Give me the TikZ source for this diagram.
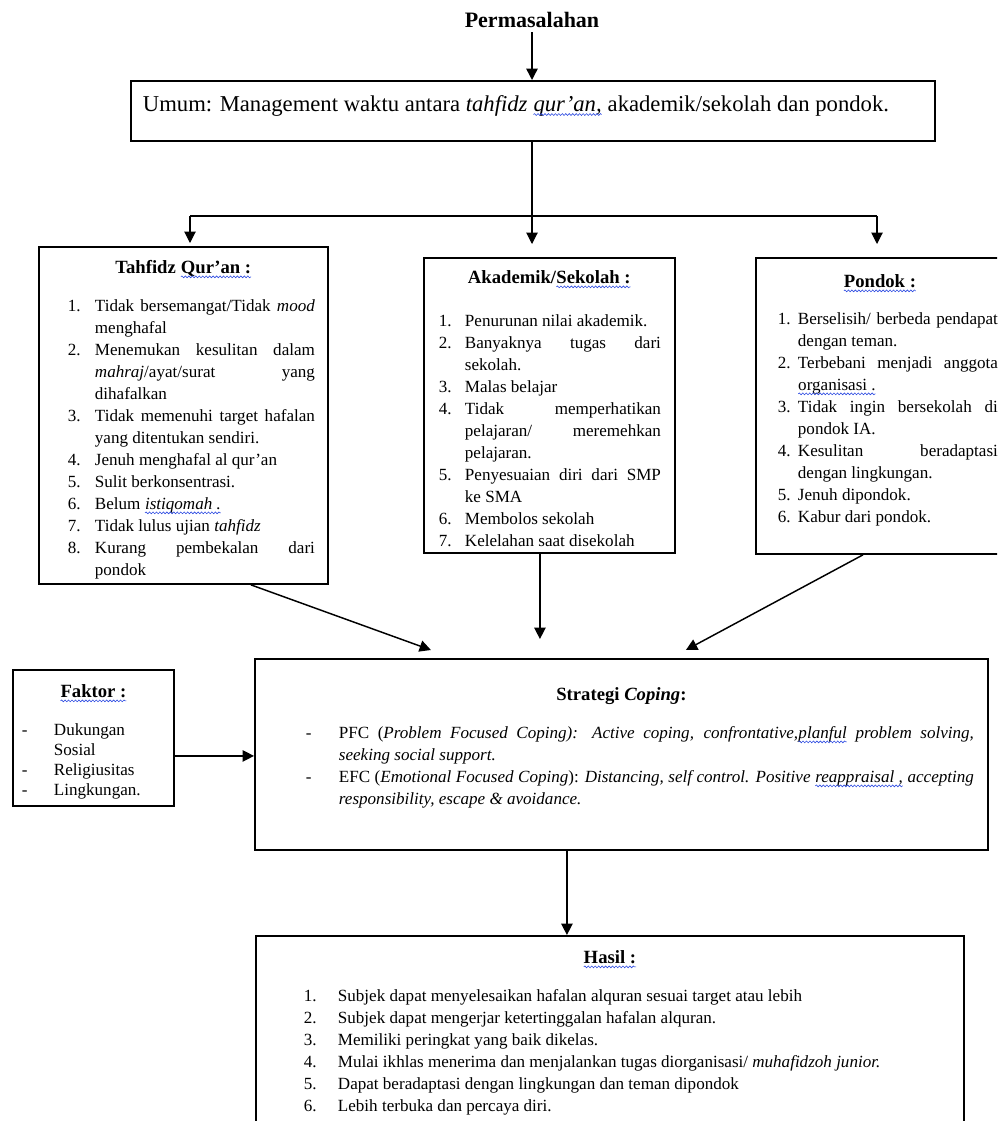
\documentclass[tikz,border=0pt]{standalone}
\usepackage{fontspec}
\setmainfont{Liberation Serif}
\usepackage{enumitem}
\usetikzlibrary{arrows.meta,calc,decorations.pathmorphing}

\definecolor{spellblue}{RGB}{45,75,225}
\newcommand\squig[1]{\tikz[baseline=(w.base)]{\node[inner sep=0pt, outer sep=0pt] (w) {#1};
    \draw[spellblue, line width=0.45pt, decorate, decoration={snake, amplitude=0.7pt, segment length=2.6pt}]
        ([yshift=-2.2pt]w.base west) -- ([yshift=-2.2pt]w.base east);}}

\newcommand\itemfont{\fontsize{12.8}{16.5}\selectfont}
\newcommand\headfont{\fontsize{14}{16.5}\selectfont\bfseries}
\setlist{topsep=0pt, partopsep=0pt, itemsep=0pt, parsep=0pt, labelsep=0pt, align=left}

\begin{document}
\begin{tikzpicture}[x=0.75pt, y=-0.75pt,
    box/.style={draw, line width=1.4pt, inner sep=0pt, anchor=north west},
    arr/.style={-{Triangle[length=8.5pt,width=8.5pt]}, line width=1.1pt},
    thinline/.style={line width=0.8pt}]
    \useasboundingbox (0,0) rectangle (997,1121);
    \clip (0,0) rectangle (997,1121);

    \node[font=\fontsize{16.5}{20}\selectfont\bfseries] (perm) at (532,20) {Permasalahan};

    \node[box] (umum) at (130,80) {\begin{minipage}[t][45pt][t]{603pt}
        \fontsize{17}{20}\selectfont\leftskip=9pt
        \rule{0pt}{23pt}Umum: Management waktu antara \textit{tahfidz \squig{qur’an,}} akademik/sekolah dan pondok.
    \end{minipage}};

    % tiga masalah
    \node[box] (tahfidz) at (38,246) {\begin{minipage}[t][252.75pt][t]{216.75pt}
        {\centering\headfont\rule{0pt}{20.25pt}Tahfidz \squig{Qur’an :}\par}
        \vspace{12pt}\itemfont
        \begin{enumerate}[leftmargin=42pt, labelwidth=20.25pt, rightmargin=9.75pt]
            \item Tidak bersemangat/Tidak \textit{mood}\linebreak menghafal
            \item Menemukan kesulitan dalam\linebreak \textit{mahraj}/ayat/surat yang\linebreak dihafalkan
            \item Tidak memenuhi target hafalan\linebreak yang ditentukan sendiri.
            \item Jenuh menghafal al qur’an
            \item Sulit berkonsentrasi.
            \item Belum \textit{\squig{istiqomah .}}
            \item Tidak lulus ujian \textit{tahfidz}
            \item Kurang pembekalan dari\linebreak pondok
        \end{enumerate}
    \end{minipage}};

    \node[box] (akademik) at (423,257) {\begin{minipage}[t][221.25pt][t]{188.25pt}
        {\centering\headfont\rule{0pt}{19.5pt}Akademik/\squig{Sekolah :}\par}
        \vspace{15.5pt}\itemfont
        \begin{enumerate}[leftmargin=30.75pt, labelwidth=19.5pt, rightmargin=10.5pt]
            \item Penurunan nilai akademik.
            \item Banyaknya tugas dari\linebreak sekolah.
            \item Malas belajar
            \item Tidak memperhatikan\linebreak pelajaran/ meremehkan\linebreak pelajaran.
            \item Penyesuaian diri dari SMP\linebreak ke SMA
            \item Membolos sekolah
            \item Kelelahan saat disekolah
        \end{enumerate}
    \end{minipage}};

    \node[box] (pondok) at (755,257) {\begin{minipage}[t][222pt][t]{186pt}
        {\centering\headfont\rule{0pt}{22.5pt}\squig{Pondok :}\par}
        \vspace{11.25pt}\itemfont
        \begin{enumerate}[leftmargin=31.5pt, labelwidth=15pt, rightmargin=4.5pt]
            \item Berselisih/ berbeda pendapat\linebreak dengan teman.
            \item Terbebani menjadi anggota\linebreak \squig{organisasi .}
            \item Tidak ingin bersekolah di\linebreak pondok IA.
            \item Kesulitan beradaptasi\linebreak dengan lingkungan.
            \item Jenuh dipondok.
            \item Kabur dari pondok.
        \end{enumerate}
    \end{minipage}};

    % faktor dan strategi
    \node[box] (faktor) at (12,669) {\begin{minipage}[t][102pt][t]{120.75pt}
        {\centering\headfont\rule{0pt}{21pt}\squig{Faktor :}\par}
        \vspace{13.5pt}\fontsize{12.8}{15}\selectfont
        \begin{itemize}[label=-, leftmargin=30.75pt, labelwidth=24pt]
            \item Dukungan\newline Sosial
            \item Religiusitas
            \item Lingkungan.
        \end{itemize}
    \end{minipage}};

    \node[box] (strategi) at (254,658) {\begin{minipage}[t][143.25pt][t]{549.75pt}
        {\centering\headfont\rule{0pt}{31.5pt}Strategi \textit{Coping}:\par}
        \vspace{12pt}\itemfont
        \begin{itemize}[label=-, leftmargin=63pt, labelwidth=24.75pt, rightmargin=10.5pt]
            \item PFC (\textit{Problem Focused Coping): Active coping, confrontative,\squig{planful} problem solving,}\linebreak \textit{seeking social support.}
            \item EFC (\textit{Emotional Focused Coping}): \textit{Distancing, self control. Positive \squig{reappraisal ,} accepting}\linebreak \textit{responsibility, escape \& avoidance.}
        \end{itemize}
    \end{minipage}};

    \node[box] (hasil) at (255,935) {\begin{minipage}[t][150pt][t]{531pt}
        {\centering\headfont\rule{0pt}{21pt}\squig{Hasil :}\par}
        \vspace{12pt}\itemfont
        \begin{enumerate}[leftmargin=61.5pt, labelwidth=25.5pt]
            \item Subjek dapat menyelesaikan hafalan alquran sesuai target atau lebih
            \item Subjek dapat mengerjar ketertinggalan hafalan alquran.
            \item Memiliki peringkat yang baik dikelas.
            \item Mulai ikhlas menerima dan menjalankan tugas diorganisasi/ \textit{muhafidzoh junior.}
            \item Dapat beradaptasi dengan lingkungan dan teman dipondok
            \item Lebih terbuka dan percaya diri.
        \end{enumerate}
    \end{minipage}};

    \coordinate (bar) at (532,216);
    \coordinate (barL) at (190,216);
    \coordinate (barR) at (877,216);

    \draw[arr] (perm) -- (perm |- umum.north);
    \draw[thinline] (umum.south -| bar) -- (bar);
    \draw[thinline] (barL) -- (barR);
    \draw[arr, thinline] (barL) -- ($(barL |- tahfidz.north)+(0,-3)$);
    \draw[arr, thinline] (bar) -- ($(bar |- akademik.north)+(0,-13)$);
    \draw[arr, thinline] (barR) -- ($(barR |- pondok.north)+(0,-13)$);

    \draw[arr] ($(tahfidz.south)+(67.5,0)$) -- ($(strategi.north)+(-190.5,-8)$);
    \draw[arr] ($(akademik.south)+(-9.5,0)$) -- ($(akademik.south |- strategi.north)+(-9.5,-19)$);
    \draw[arr] ($(pondok.south)+(-17,0)$) -- ($(strategi.north)+(64.5,-8)$);
    \draw[arr] ($(faktor.east)+(0,18)$) -- ($(faktor.east -| strategi.west)+(0,18)$);
    \draw[arr] ($(strategi.south)+(-54.5,0)$) -- ($(hasil.north)+(-43,0)$);

\end{tikzpicture}
\end{document}
